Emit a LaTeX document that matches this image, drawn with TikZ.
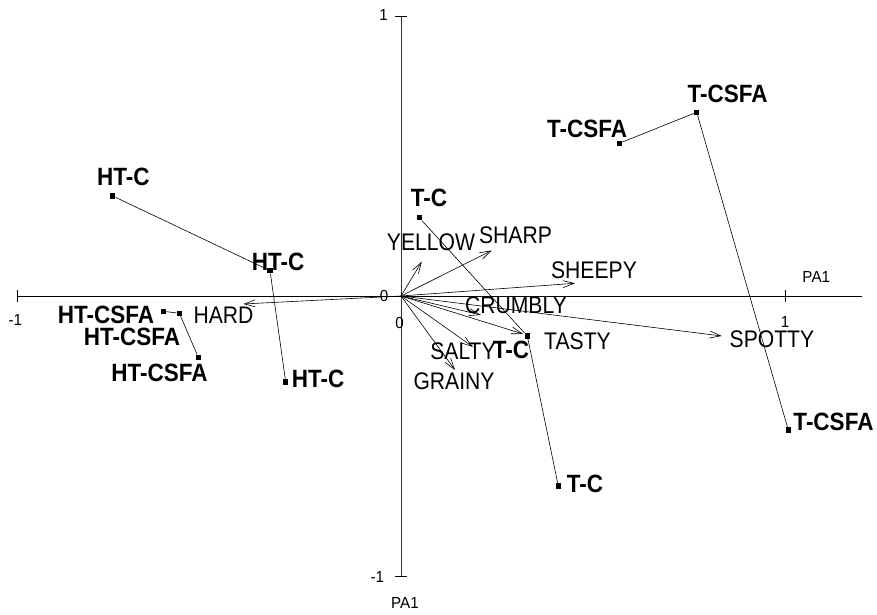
\documentclass[tikz,border=0pt]{standalone}
\usepackage{fontspec}
\setmainfont{Liberation Sans}
\newfontfamily\attrfont{Liberation Sans}[FakeStretch=0.88]
\newfontfamily\samplefont{Liberation Sans Bold}[FakeStretch=0.9]
\newfontfamily\axisfont{Liberation Sans}[FakeStretch=0.95]
\usetikzlibrary{arrows.meta}
\tikzset{
	every path/.style={line width=0.6pt},
	vec/.style={
		draw,
		-{Straight Barb[length=11pt,width=7pt]}
	},
	link/.style={
		draw,
	},
	axis/.style={
		draw,
		line width=0.8pt,
	},
}

\begin{document}
\begin{tikzpicture}
[x=384pt, y=280pt,
pnt/.style ={rectangle, fill=black, inner sep=0pt,
minimum size=5.5pt},
sample/.style ={inner sep=0pt,
font=\samplefont\fontsize{25}{28}\selectfont},
attr/.style ={inner sep=0pt,
font=\attrfont\fontsize{24}{27}\selectfont},
axlab/.style ={inner sep=0pt,
font=\axisfont\fontsize{16}{18}\selectfont}]
\useasboundingbox (-1.0443,-1.1393) rectangle (1.2396,1.0571);
% axes
\coordinate (o) at (0,0);
\coordinate (xl) at (-1,0);
\coordinate (x1) at (1,0);
\coordinate (xr) at (1.2005,0);
\coordinate (yt) at (0,1);
\coordinate (yb) at (0,-1);
\draw[axis] (xl) -- (xr);
\draw[axis, black!80] (yb) -- (yt);
\draw[axis] ([yshift=6pt]xl) -- ([yshift=-6pt]xl);
\draw[axis] ([yshift=6pt]x1) -- ([yshift=-6pt]x1);
\draw[axis] ([xshift=-6pt]yt) -- ([xshift=6pt]yt);
\draw[axis] ([xshift=-6pt]yb) -- ([xshift=6pt]yb);
\node[axlab] (yone) at (-0.0456,1.0018) {1};
\node[axlab] (ymone) at (-0.0617,-1.0054) {-1};
\node[axlab] (ypa) at (0.0104,-1.0964) {PA1};
\node[axlab] (xpa) at (1.0815,0.0661) {PA1};
\node[axlab] (xone) at (1.0,-0.0946) {1};
\node[axlab] (xmone) at (-1.0044,-0.0857) {-1};
\node[axlab] (yzero) at (-0.0443,0) {0};
\node[axlab] (xzero) at (-0.0039,-0.0964) {0};

% attribute vectors
\coordinate (yel) at (0.0539,0.1225);
\coordinate (sha) at (0.2362,0.1625);
\coordinate (she) at (0.4531,0.0454);
\coordinate (spo) at (0.8352,-0.1429);
\coordinate (cru) at (0.2083,-0.0679);
\coordinate (tas) at (0.3177,-0.1357);
\coordinate (sal) at (0.1875,-0.1821);
\coordinate (gra) at (0.1406,-0.2643);
\coordinate (har) at (-0.4107,-0.0286);
\draw[vec] (o) -- (yel);
\draw[vec] (o) -- (sha);
\draw[vec] (o) -- (she);
\draw[vec] (o) -- (spo);
\draw[vec] (o) -- (cru);
\draw[vec] (o) -- (tas);
\draw[vec] (o) -- (sal);
\draw[vec] (o) -- (gra);
\draw[vec] (o) -- (har);
\node[attr] (yel-t) at (0.0781,0.1911) {YELLOW};
\node[attr] (sha-t) at (0.2982,0.2179) {SHARP};
\node[attr] (she-t) at (0.5026,0.0929) {SHEEPY};
\node[attr] (spo-t) at (0.9661,-0.1536) {SPOTTY};
\node[attr] (cru-t) at (0.2995,-0.0321) {CRUMBLY};
\node[attr] (tas-t) at (0.4596,-0.1607) {TASTY};
\node[attr] (sal-t) at (0.1615,-0.1982) {SALTY};
\node[attr] (gra-t) at (0.1380,-0.3036) {GRAINY};
\node[attr] (har-t) at (-0.4622,-0.0679) {HARD};

% samples
\node[pnt] (htc1) at (-0.7508,0.3571) {};
\node[pnt] (htc2) at (-0.3411,0.0904) {};
\node[pnt] (htc3) at (-0.3003,-0.3071) {};
\node[pnt] (hts1) at (-0.6190,-0.0546) {};
\node[pnt] (hts2) at (-0.5773,-0.0618) {};
\node[pnt] (hts3) at (-0.5279,-0.2189) {};
\node[pnt] (tc1) at (0.0477,0.2796) {};
\node[pnt] (tc2) at (0.3289,-0.1429) {};
\node[pnt] (tc3) at (0.4096,-0.6786) {};
\node[pnt] (tcs1) at (0.5685,0.5454) {};
\node[pnt] (tcs2) at (0.7701,0.6561) {};
\node[pnt] (tcs3) at (1.0086,-0.4786) {};
\draw[link] (htc1) -- (htc2) -- (htc3);
\draw[link] (hts1) -- (hts2) -- (hts3);
\draw[link] (tc1) -- (tc2) -- (tc3);
\draw[link] (tcs1) -- (tcs2) -- (tcs3);
\node[sample] (htc1-t) at (-0.7227,0.4268) {HT-C};
\node[sample] (htc2-t) at (-0.3203,0.1214) {HT-C};
\node[sample] (htc3-t) at (-0.2161,-0.2964) {HT-C};
\node[sample] (hts1-t) at (-0.7682,-0.0679) {HT-CSFA};
\node[sample] (hts2-t) at (-0.7005,-0.1446) {HT-CSFA};
\node[sample] (hts3-t) at (-0.6289,-0.2732) {HT-CSFA};
\node[sample] (tc1-t) at (0.0729,0.35) {T-C};
\node[sample] (tc2-t) at (0.2865,-0.1929) {T-C};
\node[sample] (tc3-t) at (0.4792,-0.6696) {T-C};
\node[sample] (tcs1-t) at (0.4844,0.5982) {T-CSFA};
\node[sample] (tcs2-t) at (0.8503,0.7214) {T-CSFA};
\node[sample] (tcs3-t) at (1.1263,-0.4482) {T-CSFA};
\end{tikzpicture}
\end{document}
